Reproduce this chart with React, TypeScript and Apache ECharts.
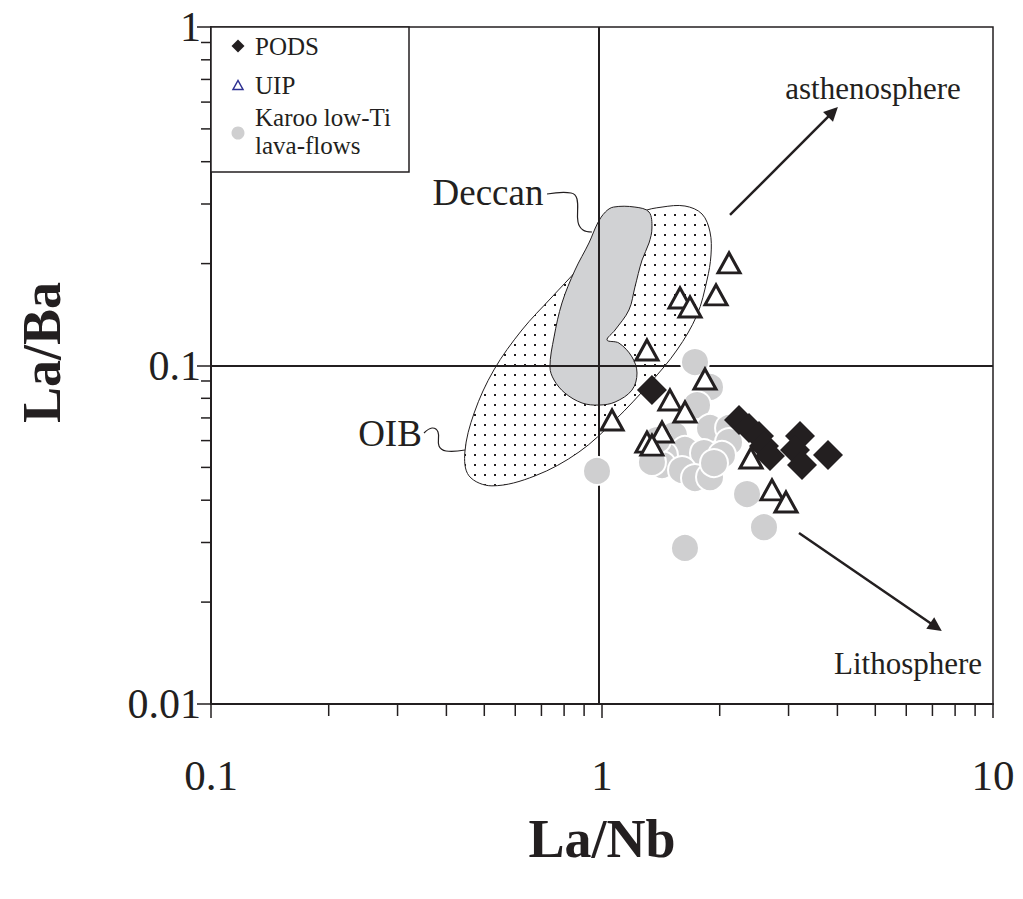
import React, { useEffect, useRef } from "react";
import * as echarts from "echarts";

// ---- data (La/Nb, La/Ba) ----
const PODS_LA_NB = [1.342, 2.241, 2.377, 2.521, 2.596, 2.689, 3.209, 3.116, 3.247, 3.784];
const PODS_LA_BA = [0.0846, 0.069, 0.0654, 0.0619, 0.0578, 0.054, 0.0619, 0.0563, 0.0508, 0.0544];

const UIP_LA_NB = [2.113, 1.583, 1.679, 1.957, 1.303, 1.834, 1.492, 1.63, 1.061, 1.424, 1.303, 1.342, 2.405, 2.721, 2.955];
const UIP_LA_BA = [0.2009, 0.1583, 0.1489, 0.1616, 0.1111, 0.0912, 0.0791, 0.0729, 0.069, 0.0636, 0.0594, 0.0582, 0.0533, 0.0429, 0.0395];

const KAROO_LA_NB = [0.971, 1.63, 1.729, 1.889, 1.75, 1.528, 1.889, 2.113, 2.113, 1.63, 1.44, 1.823, 2.027, 1.424, 1.602, 1.729, 1.889, 1.934, 2.349, 2.596, 1.342, 1.383];
const KAROO_LA_BA = [0.0488, 0.0289, 0.1024, 0.0864, 0.0764, 0.0623, 0.0654, 0.0654, 0.0594, 0.0563, 0.0544, 0.0551, 0.0544, 0.0508, 0.0491, 0.0465, 0.0468, 0.0515, 0.0417, 0.0333, 0.0519, 0.0602];

// field outlines
const OIB_LA_NB = [1.266, 1.424, 1.63, 1.802, 1.889, 1.9, 1.856, 1.75, 1.555, 1.327, 1.08, 0.873, 0.674, 0.523, 0.457, 0.446, 0.471, 0.529, 0.624, 0.745, 0.863, 1.03];
const OIB_LA_BA = [0.2841, 0.2938, 0.2959, 0.2803, 0.248, 0.2121, 0.1789, 0.141, 0.1111, 0.0888, 0.069, 0.0555, 0.0472, 0.0441, 0.0472, 0.0555, 0.0724, 0.097, 0.1273, 0.1594, 0.1914, 0.2429];

const DECCAN_LA_NB = [1.07, 1.214, 1.319, 1.342, 1.319, 1.266, 1.214, 1.172, 1.08, 1.03, 1.105, 1.193, 1.229, 1.193, 1.08, 0.982, 0.889, 0.804, 0.754, 0.736, 0.754, 0.79, 0.853, 0.926, 0.975, 1.02];
const DECCAN_LA_BA = [0.2938, 0.2938, 0.2841, 0.2548, 0.2301, 0.2049, 0.1705, 0.1459, 0.1273, 0.1189, 0.1165, 0.106, 0.095, 0.0846, 0.078, 0.0764, 0.0775, 0.0829, 0.0906, 0.099, 0.1214, 0.153, 0.1914, 0.2301, 0.2636, 0.2841];

// reference lines (primitive mantle)
const REF_LA_NB = 0.985;
const REF_LA_BA = 0.096;

// trend arrows
const ASTH_ARROW = [[2.125, 0.2784], [3.897, 0.561]];
const LITH_ARROW = [[3.19, 0.032], [7.149, 0.01689]];

// axes
const X_MIN = 0.1, X_MAX = 10;
const Y_MIN = 0.01, Y_MAX = 1;
const MINOR_X = [0.2, 0.3, 0.4, 0.5, 0.6, 0.7, 0.8, 0.9, 2, 3, 4, 5, 6, 7, 8, 9];
const MINOR_Y = [0.02, 0.03, 0.04, 0.05, 0.06, 0.07, 0.08, 0.09, 0.2, 0.3, 0.4, 0.5, 0.6, 0.7, 0.8, 0.9];

const INK = "#231f20";
const SERIF = "'Liberation Serif', 'Times New Roman', serif";

export default function App() {
  const ref = useRef<HTMLDivElement>(null);
  useEffect(() => {
    if (!ref.current) return;
    const chart = echarts.init(ref.current, null, { renderer: "svg" });

    const dot = document.createElement("canvas");
    dot.width = 10;
    dot.height = 10;
    const ctx = dot.getContext("2d");
    if (ctx) {
      ctx.fillStyle = INK;
      ctx.fillRect(4, 4, 2, 2);
    }

    const polygonSeries = (name: string, xs: number[], ys: number[], style: any, z: number) => ({
      type: "custom",
      name,
      coordinateSystem: "cartesian2d",
      silent: true,
      z,
      data: [[xs[0], ys[0]]],
      renderItem: (params: any, api: any) => {
        if (params.dataIndex !== 0) return null;
        const pts = xs.map((x, i) => api.coord([x, ys[i]]));
        return { type: "polygon", shape: { points: pts, smooth: 0.35 }, style };
      },
    });

    const option: any = {
      animation: false,
      backgroundColor: "#ffffff",
      grid: {
        left: 211, top: 27, width: 782, height: 677,
        show: true, borderColor: INK, borderWidth: 1.5, backgroundColor: "transparent",
      },
      xAxis: {
        type: "log", logBase: 10, min: X_MIN, max: X_MAX,
        name: "La/Nb", nameLocation: "middle", nameGap: 108,
        nameTextStyle: { fontFamily: SERIF, fontWeight: "bold", fontSize: 54, color: INK },
        axisLine: { show: true, lineStyle: { color: INK, width: 2 } },
        axisTick: { show: true, inside: false, length: 14, lineStyle: { color: INK, width: 1.5 } },
        axisLabel: { fontFamily: SERIF, fontSize: 43, color: INK, margin: 50 },
        splitLine: { show: false },
      },
      yAxis: {
        type: "log", logBase: 10, min: Y_MIN, max: Y_MAX,
        name: "La/Ba", nameLocation: "middle", nameGap: 142, nameRotate: 90,
        nameTextStyle: { fontFamily: SERIF, fontWeight: "bold", fontSize: 54, color: INK, padding: [0, 0, 0, 26] },
        axisLine: { show: true, lineStyle: { color: INK, width: 2 } },
        axisTick: { show: true, inside: false, length: 14, lineStyle: { color: INK, width: 1.5 } },
        axisLabel: { fontFamily: SERIF, fontSize: 42, color: INK, margin: 10 },
        splitLine: { show: false },
      },
      series: [
        polygonSeries("OIB", OIB_LA_NB, OIB_LA_BA,
          { fill: { image: dot, repeat: "repeat" }, stroke: INK, lineWidth: 1 }, 1),
        polygonSeries("Deccan", DECCAN_LA_NB, DECCAN_LA_BA,
          { fill: "#d1d2d4", stroke: INK, lineWidth: 1 }, 2),
        {
          type: "custom", name: "minorX", coordinateSystem: "cartesian2d", silent: true, z: 3,
          data: MINOR_X.map((v) => [v, Y_MIN]),
          renderItem: (_p: any, api: any) => {
            const p = api.coord([api.value(0), api.value(1)]);
            return { type: "line", shape: { x1: p[0], y1: p[1], x2: p[0], y2: p[1] + 12 }, style: { stroke: INK, lineWidth: 1.5 } };
          },
        },
        {
          type: "custom", name: "minorY", coordinateSystem: "cartesian2d", silent: true, z: 3,
          data: MINOR_Y.map((v) => [X_MIN, v]),
          renderItem: (_p: any, api: any) => {
            const p = api.coord([api.value(0), api.value(1)]);
            return { type: "line", shape: { x1: p[0], y1: p[1], x2: p[0] - 10, y2: p[1] }, style: { stroke: INK, lineWidth: 1.5 } };
          },
        },
        {
          type: "lines", name: "trends", coordinateSystem: "cartesian2d", silent: true, z: 4,
          symbol: ["none", "triangle"], symbolSize: 14,
          lineStyle: { color: INK, width: 2.5, opacity: 1 },
          data: [{ coords: ASTH_ARROW }, { coords: LITH_ARROW }],
        },
        {
          type: "scatter", name: "Karoo low-Ti lava-flows", z: 5,
          symbol: "circle", symbolSize: 28,
          itemStyle: { color: "#cfcfd0", borderColor: "#ffffff", borderWidth: 2, opacity: 1 },
          data: KAROO_LA_NB.map((x, i) => [x, KAROO_LA_BA[i]]),
          markLine: {
            silent: true, symbol: ["none", "none"], label: { show: false },
            lineStyle: { color: INK, width: 2, type: "solid" },
            data: [{ xAxis: REF_LA_NB }, { yAxis: REF_LA_BA }],
          },
        },
        {
          type: "scatter", name: "PODS", z: 6,
          symbol: "diamond", symbolSize: 30,
          itemStyle: { color: INK, opacity: 1 },
          data: PODS_LA_NB.map((x, i) => [x, PODS_LA_BA[i]]),
        },
        {
          type: "scatter", name: "UIP", z: 7,
          symbol: "triangle", symbolSize: [22, 20],
          itemStyle: { color: "#ffffff", borderColor: INK, borderWidth: 3, opacity: 1 },
          data: UIP_LA_NB.map((x, i) => [x, UIP_LA_BA[i]]),
        },
      ],
      graphic: [
        { type: "rect", z: 100, shape: { x: 211, y: 27, width: 198, height: 145 }, style: { fill: "#fff", stroke: INK, lineWidth: 1.5 } },
        { type: "polygon", z: 101, shape: { points: [[238, 39.5], [244.5, 46], [238, 52.5], [231.5, 46]] }, style: { fill: INK } },
        { type: "text", z: 101, x: 255, y: 46, style: { text: "PODS", font: `25px ${SERIF}`, fill: INK, verticalAlign: "middle" } },
        { type: "polygon", z: 101, shape: { points: [[233, 89.5], [243, 89.5], [238, 80.5]] }, style: { fill: "#fff", stroke: "#2e3192", lineWidth: 1.5 } },
        { type: "text", z: 101, x: 255, y: 85, style: { text: "UIP", font: `25px ${SERIF}`, fill: INK, verticalAlign: "middle" } },
        { type: "circle", z: 101, shape: { cx: 238, cy: 133, r: 6.5 }, style: { fill: "#cfcfd0" } },
        { type: "text", z: 101, x: 255, y: 117, style: { text: "Karoo low-Ti", font: `25px ${SERIF}`, fill: INK, verticalAlign: "middle" } },
        { type: "text", z: 101, x: 255, y: 145, style: { text: "lava-flows", font: `25px ${SERIF}`, fill: INK, verticalAlign: "middle" } },
        { type: "text", z: 101, x: 873, y: 88, style: { text: "asthenosphere", font: `31px ${SERIF}`, fill: INK, align: "center", verticalAlign: "middle" } },
        { type: "text", z: 101, x: 908, y: 663, style: { text: "Lithosphere", font: `31px ${SERIF}`, fill: INK, align: "center", verticalAlign: "middle" } },
        { type: "text", z: 101, x: 488, y: 192, style: { text: "Deccan", font: `37px ${SERIF}`, fill: INK, align: "center", verticalAlign: "middle" } },
        { type: "text", z: 101, x: 390, y: 433, style: { text: "OIB", font: `37px ${SERIF}`, fill: INK, align: "center", verticalAlign: "middle" } },
        { type: "polyline", z: 101, shape: { points: [[547, 194], [571, 193], [577, 199], [578, 222], [583, 230], [592, 232]], smooth: 0.4 }, style: { fill: "none", stroke: INK, lineWidth: 1.2 } },
        { type: "polyline", z: 101, shape: { points: [[424, 433], [432, 428], [438, 432], [439, 446], [446, 451], [465, 450]], smooth: 0.4 }, style: { fill: "none", stroke: INK, lineWidth: 1.2 } },
      ],
    };
    chart.setOption(option);
    return () => chart.dispose();
  }, []);
  return (
    <div
      ref={ref}
      style={{ position: "absolute", left: 0, top: 0, width: 1023, height: 899, background: "#fff" }}
    />
  );
}
